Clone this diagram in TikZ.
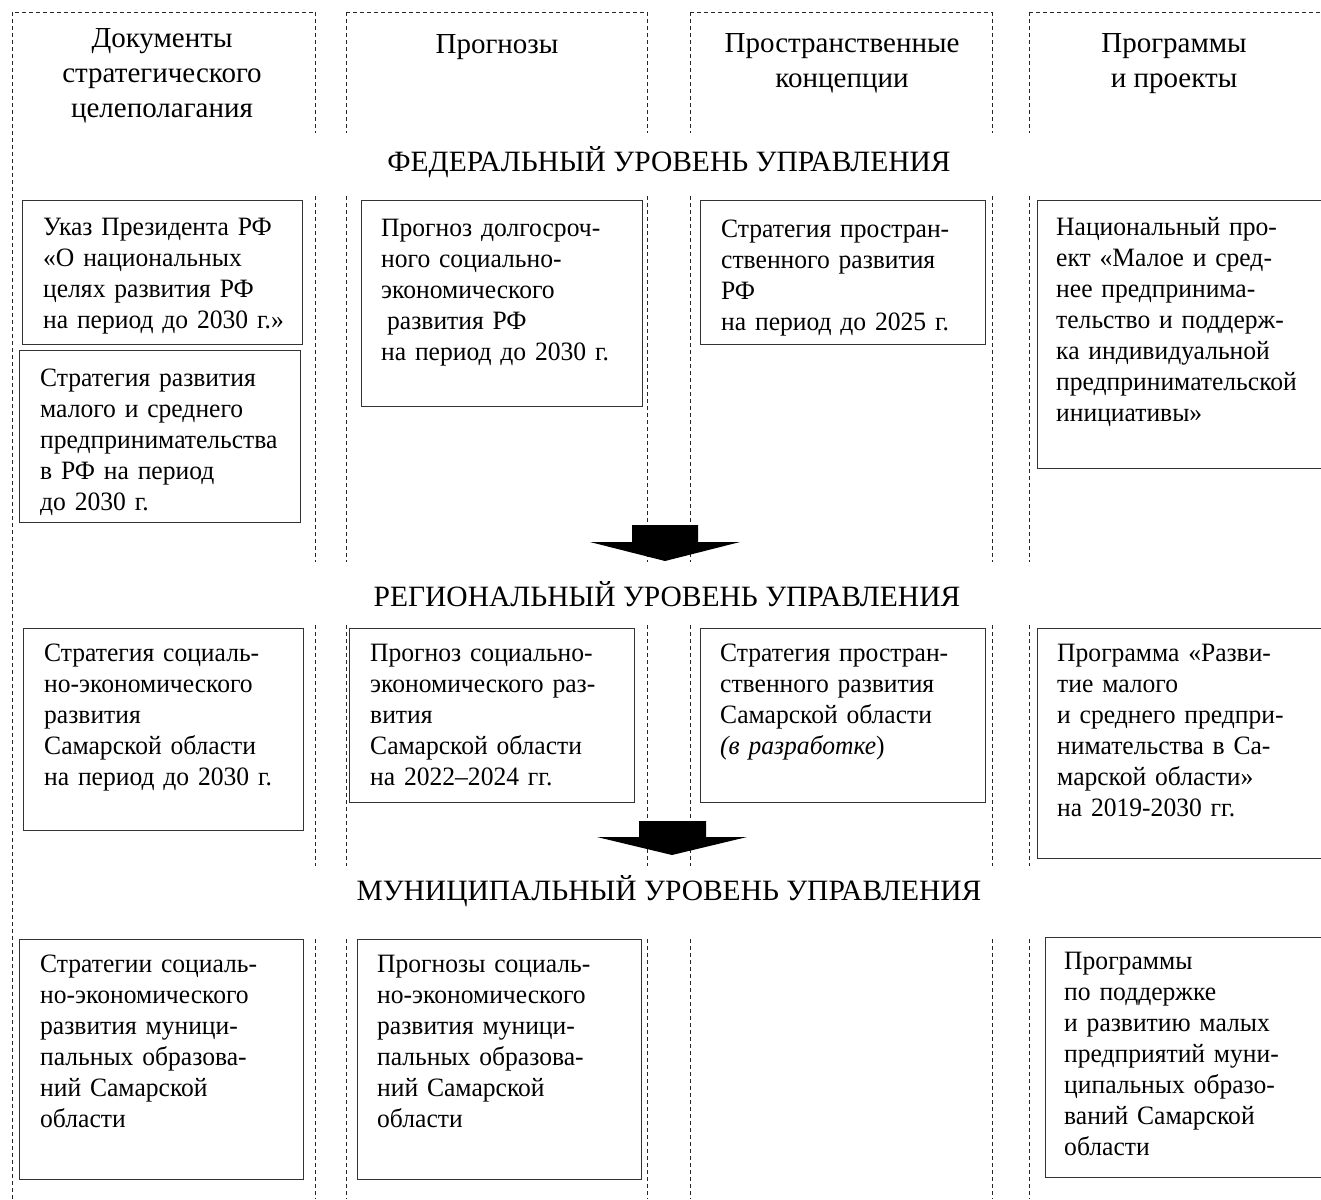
\documentclass[tikz,border=0pt]{standalone}
\usepackage{fontspec}
\setmainfont{Liberation Serif}
\newfontfamily\boxfont{Liberation Serif}[FakeStretch=0.965]
\newcommand\myst{\rule{0pt}{25pt}}
\newcommand\hdst{\rule{0pt}{28pt}}
\begin{document}
\begin{tikzpicture}[x=1pt,y=-1pt,
  boxst/.style={draw=black!80, line width=1.2pt, anchor=north west, inner sep=0pt},
  txt/.style={anchor=north west, inner sep=0pt, align=left, text width=320pt,
              font=\boxfont\fontsize{26.5}{31}\selectfont},
  hdr/.style={anchor=north, inner sep=0pt, align=center,
              font=\fontsize{29}{35}\selectfont},
  lvl/.style={anchor=base, inner sep=0pt, font=\fontsize{29.5}{35}\selectfont},
  frame/.style={draw=black!85, line width=0.9pt, dash pattern=on 4pt off 3pt},
  bigarrow/.style={fill=black}]
\useasboundingbox (0,0) rectangle (1321,1199);

% dashed column frames
\draw[frame] (12,1199) -- (12,12) -- (315,12);
\draw[frame] (346,12) -- (647,12);
\draw[frame] (690,12) -- (992,12);
\draw[frame] (1029,12) -- (1321,12);
\foreach \xx in {315,346,647,690,992,1029}{
  \draw[frame] (\xx,12) -- (\xx,133);
  \draw[frame] (\xx,196) -- (\xx,562);
  \draw[frame] (\xx,625) -- (\xx,866);
  \draw[frame] (\xx,939) -- (\xx,1199);
}

% column headers
\node[hdr] (h1) at (162,19) {\hdst Документы\\стратегического\\целеполагания};
\node[hdr] (h2) at (497,25) {\hdst Прогнозы};
\node[hdr] (h3) at (842,24) {\hdst Пространственные\\концепции};
\node[hdr] (h4) at (1174,24) {\hdst Программы\\и проекты};

% level headings
\node[lvl] (fed) at (669,171) {ФЕДЕРАЛЬНЫЙ УРОВЕНЬ УПРАВЛЕНИЯ};
\node[lvl] (reg) at (667,606) {РЕГИОНАЛЬНЫЙ УРОВЕНЬ УПРАВЛЕНИЯ};
\node[lvl] (mun) at (669,900) {МУНИЦИПАЛЬНЫЙ УРОВЕНЬ УПРАВЛЕНИЯ};

% federal boxes
\node[boxst, minimum width=280, minimum height=144] (A) at (22,200) {};
\node[txt] (tA) at (43,210) {\myst Указ Президента РФ\\«О национальных\\целях развития РФ\\на период до 2030 г.»};
\node[boxst, minimum width=281, minimum height=172] (B) at (19,350) {};
\node[txt] (tB) at (40,361) {\myst Стратегия развития\\малого и среднего\\предпринимательства\\в РФ на период\\до 2030 г.};
\node[boxst, minimum width=281, minimum height=206] (C) at (361,200) {};
\node[txt] (tC) at (381,211) {\myst Прогноз долгосроч-\\ного социально-\\экономического\\\hspace*{6pt}развития РФ\\на период до 2030 г.};
\node[boxst, minimum width=285, minimum height=144] (D) at (700,200) {};
\node[txt] (tD) at (721,212) {\myst Стратегия простран-\\ственного развития\\РФ\\на период до 2025 г.};
\node[boxst, minimum width=300, minimum height=268] (E) at (1037,200) {};
\node[txt] (tE) at (1056,210) {\myst Национальный про-\\ект «Малое и сред-\\нее предпринима-\\тельство и поддерж-\\ка индивидуальной\\предпринимательской\\инициативы»};

% arrow 1
\fill[bigarrow] (632,525) -- (698,525) -- (698,542) -- (740,542) -- (665,561)
  -- (590,542) -- (632,542) -- cycle;

% regional boxes
\node[boxst, minimum width=280, minimum height=202] (F) at (23,628) {};
\node[txt] (tF) at (44,636) {\myst Стратегия социаль-\\но-экономического\\развития\\Самарской области\\на период до 2030 г.};
\node[boxst, minimum width=285, minimum height=174] (G) at (349,628) {};
\node[txt] (tG) at (370,636) {\myst Прогноз социально-\\экономического раз-\\вития\\Самарской области\\на 2022–2024 гг.};
\node[boxst, minimum width=285, minimum height=174] (H) at (700,628) {};
\node[txt] (tH) at (720,636) {\myst Стратегия простран-\\ственного развития\\Самарской области\\\textit{(в разработке})};
\node[boxst, minimum width=300, minimum height=230] (I) at (1037,628) {};
\node[txt] (tI) at (1057,636) {\myst Программа «Разви-\\тие малого\\и среднего предпри-\\нимательства в Са-\\марской области»\\на 2019-2030 гг.};

% arrow 2
\fill[bigarrow] (639,821) -- (706,821) -- (706,837) -- (747,837) -- (672,855)
  -- (597,837) -- (639,837) -- cycle;

% municipal boxes
\node[boxst, minimum width=284, minimum height=240] (J) at (19,939) {};
\node[txt] (tJ) at (40,947) {\myst Стратегии социаль-\\но-экономического\\развития муници-\\пальных образова-\\ний Самарской\\области};
\node[boxst, minimum width=284, minimum height=240] (K) at (357,939) {};
\node[txt] (tK) at (377,947) {\myst Прогнозы социаль-\\но-экономического\\развития муници-\\пальных образова-\\ний Самарской\\области};
\node[boxst, minimum width=290, minimum height=240] (L) at (1045,937) {};
\node[txt] (tL) at (1064,944) {\myst Программы\\по поддержке\\и развитию малых\\предприятий муни-\\ципальных образо-\\ваний Самарской\\области};
\end{tikzpicture}
\end{document}
